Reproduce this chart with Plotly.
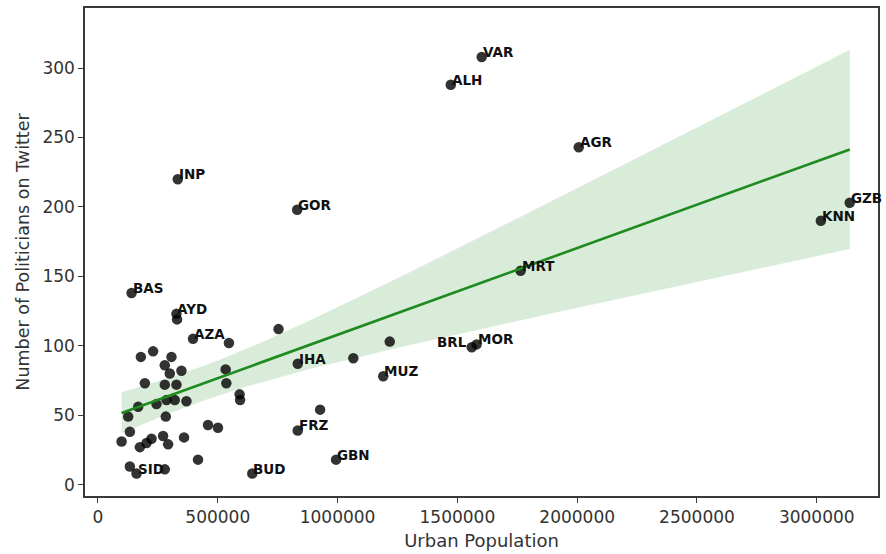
import numpy as np
import plotly.graph_objects as go

# Labeled districts: (urban population, politicians on Twitter)
label_names = ["VAR", "ALH", "AGR", "INP", "GOR", "GZB", "KNN", "MRT", "BAS", "AYD",
               "AZA", "IHA", "MUZ", "BRL", "MOR", "FRZ", "GBN", "BUD", "SID"]
label_pop = [1601500, 1472500, 2006600, 333000, 831400, 3137600, 3017000, 1763900, 140300, 327600,
             396700, 833800, 1190600, 1560000, 1580000, 833800, 993700, 644000, 161100]
label_pol = [308, 288, 243, 220, 198, 203, 190, 154, 138, 123,
             105, 87, 78, 99, 101, 39, 18, 8, 8]

# Unlabeled districts
other_pop = [753500, 546600, 1065700, 1217700, 927100, 459200, 500800, 417500, 133200, 98700,
             174800, 202700, 223500, 271800, 292700, 359300, 126100, 283100, 167800, 244400,
             286000, 320600, 369300, 195700, 278900, 327600, 535800, 532900, 591100, 593200,
             278900, 299700, 348400, 179000, 230200, 306800, 133200, 278900, 330100]
other_pol = [112, 102, 91, 103, 54, 43, 41, 18, 38, 31,
             27, 30, 33, 35, 29, 34, 49, 49, 56, 58,
             61, 61, 60, 73, 72, 72, 73, 83, 65, 61,
             86, 80, 82, 92, 96, 92, 13, 11, 119]

x_ticks = [0, 500000, 1000000, 1500000, 2000000, 2500000, 3000000]
y_ticks = [0, 50, 100, 150, 200, 250, 300]

# Regression (OLS) with robust (resampling-like) 95% confidence band, as seaborn regplot
x_all = np.array(label_pop + other_pop, dtype=float)
y_all = np.array(label_pol + other_pol, dtype=float)
n = len(x_all)
xs = x_all / 1e6
X = np.column_stack([np.ones(n), xs])
XtX_inv = np.linalg.inv(X.T @ X)
beta = XtX_inv @ X.T @ y_all
resid = y_all - X @ beta
h = np.einsum("ij,jk,ik->i", X, XtX_inv, X)
w = resid ** 2 / (1 - h) ** 2
meat = (X * w[:, None]).T @ X
V = XtX_inv @ meat @ XtX_inv
grid = np.linspace(x_all.min(), x_all.max(), 100)
G = np.column_stack([np.ones(len(grid)), grid / 1e6])
fit = G @ beta
half = 1.96 * np.sqrt(np.einsum("ij,jk,ik->i", G, V, G))
lo, hi = fit - half, fit + half

fig = go.Figure()
fig.add_trace(go.Scatter(x=np.concatenate([grid, grid[::-1]]), y=np.concatenate([hi, lo[::-1]]),
                         fill="toself", fillcolor="rgba(0,128,0,0.15)", line=dict(width=0),
                         hoverinfo="skip", showlegend=False))
fig.add_trace(go.Scatter(x=x_all, y=y_all, mode="markers",
                         marker=dict(color="black", opacity=0.8, size=10.5),
                         showlegend=False))
fig.add_trace(go.Scatter(x=grid, y=fit, mode="lines",
                         line=dict(color="#1f8a1f", width=2.6), showlegend=False))

for nm, xv, yv in zip(label_names, label_pop, label_pol):
    right = nm == "BRL"
    fig.add_annotation(x=xv, y=yv, text="<b>%s</b>" % nm, showarrow=False,
                       xanchor="right" if right else "left", yanchor="middle",
                       xshift=-3 if right else -1, yshift=5,
                       font=dict(family="DejaVu Sans", size=13.5, color="#111"))

axis_common = dict(showline=True, linecolor="#3a3a3a", linewidth=1.5, mirror=True,
                   ticks="outside", ticklen=5, tickwidth=1.3, tickcolor="#3a3a3a",
                   showgrid=False, zeroline=False,
                   tickfont=dict(family="DejaVu Sans", size=17, color="#333"))

fig.update_layout(
    width=886, height=554,
    margin=dict(l=85, r=6, t=6, b=57),
    paper_bgcolor="white", plot_bgcolor="white",
    xaxis=dict(range=[-54100, 3255500], tickvals=x_ticks, ticktext=[str(v) for v in x_ticks],
               title=dict(text="Urban Population", standoff=8,
                          font=dict(family="DejaVu Sans", size=18, color="#333")),
               **axis_common),
    yaxis=dict(range=[-8.2, 343.3], tickvals=y_ticks, ticktext=[str(v) for v in y_ticks],
               title=dict(text="Number of Politicians on Twitter", standoff=8,
                          font=dict(family="DejaVu Sans", size=17.5, color="#333")),
               **axis_common),
)

fig.write_html("out.html")
